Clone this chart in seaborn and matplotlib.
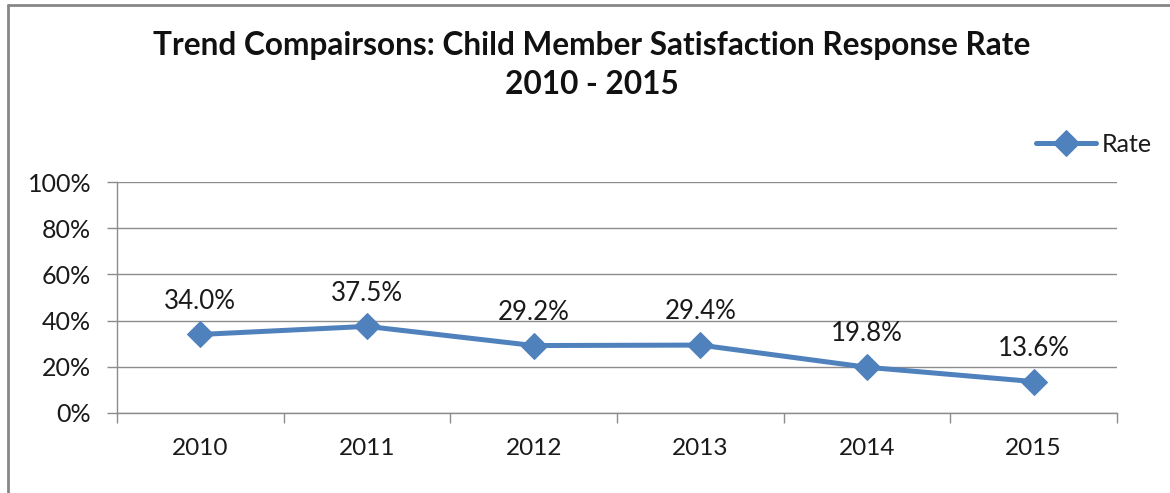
import matplotlib
matplotlib.use("Agg")
import matplotlib.pyplot as plt
import seaborn as sns
import pandas as pd

years = ["2010", "2011", "2012", "2013", "2014", "2015"]
rates = [34.0, 37.5, 29.2, 29.4, 19.8, 13.6]
y_ticks = [0, 20, 40, 60, 80, 100]
y_tick_labels = ["0%", "20%", "40%", "60%", "80%", "100%"]

sns.set_theme(style="white")
plt.rcParams["font.family"] = ["Lato", "DejaVu Sans"]

df = pd.DataFrame({"Year": years, "Rate": rates})

fig = plt.figure(figsize=(11.7, 4.93), dpi=100)
ax = fig.add_axes([0.1, 0.1623, 0.8547, 0.4685])

line_color = "#4F81BD"
grid_color = "#8C8C8C"
text_color = "#1a1a1a"

sns.lineplot(data=df, x="Year", y="Rate", ax=ax, color=line_color, linewidth=3.6,
             marker="D", markersize=13, markeredgecolor=line_color, sort=False,
             label="Rate", zorder=3)

ax.set_xlim(-0.5, len(years) - 0.5)
ax.set_ylim(0, 100)
ax.set_yticks(y_ticks)
ax.set_yticklabels(y_tick_labels)
ax.yaxis.grid(True, color=grid_color, linewidth=1)
ax.set_axisbelow(True)
ax.set_xlabel("")
ax.set_ylabel("")

for s in ["top", "right"]:
    ax.spines[s].set_visible(False)
for s in ["left", "bottom"]:
    ax.spines[s].set_color(grid_color)
    ax.spines[s].set_linewidth(1)

# category boundaries carry the x tick marks; labels sit at the centers
ax.set_xticks(list(range(len(years))))
ax.set_xticks([i - 0.5 for i in range(len(years) + 1)], minor=True)
ax.tick_params(axis="x", which="major", length=0, pad=18, labelsize=17.6, colors=text_color)
ax.tick_params(axis="x", which="minor", length=7, width=1, color=grid_color, direction="out")
ax.tick_params(axis="y", which="major", length=7, width=1, color=grid_color, direction="out",
               labelsize=18, labelcolor=text_color, pad=11.5)
ax.tick_params(axis="both", bottom=True, left=True, which="both")

for i, v in enumerate(rates):
    ax.annotate(f"{v:.1f}%", (i, v), xytext=(0, 24), textcoords="offset points",
                ha="center", va="center", fontsize=18.6, color=text_color)

leg = ax.legend(loc="lower right", bbox_to_anchor=(1.045, 1.07), frameon=False,
                fontsize=18, handlelength=2.4, handletextpad=0.25, borderaxespad=0)
for t in leg.get_texts():
    t.set_color(text_color)

fig.text(0.506, 0.8884, "Trend Compairsons: Child Member Satisfaction Response Rate",
         ha="center", va="baseline", fontsize=22.8, fontweight="bold", color="#111111")
fig.text(0.506, 0.8093, "2010 - 2015", ha="center", va="baseline", fontsize=22.8,
         fontweight="bold", color="#111111")

# outer chart frame (top and left edges visible)
fig.add_artist(plt.Line2D([8 / 1170, 1.0], [1 - 5 / 493, 1 - 5 / 493],
                          transform=fig.transFigure, color="#878787", linewidth=2))
fig.add_artist(plt.Line2D([8 / 1170, 8 / 1170], [0, 1 - 5 / 493],
                          transform=fig.transFigure, color="#878787", linewidth=2))

fig.savefig("out.png", dpi=100)
